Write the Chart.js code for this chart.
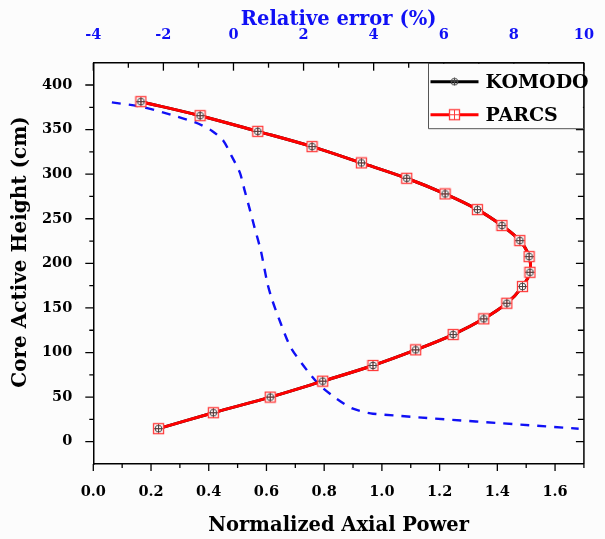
<!DOCTYPE html>
<html>
<head>
<meta charset="utf-8">
<script src="https://cdn.jsdelivr.net/npm/chart.js@4.4.1/dist/chart.umd.min.js"></script>
<style>
  html,body{margin:0;padding:0;background:#fcfcfc;}
  #wrap{width:605px;height:539px;}
</style>
</head>
<body>
<div id="wrap"><canvas id="c" width="605" height="539"></canvas></div>
<script>
// ---- data ----
const nodeHeights = [381.3, 365.6, 348.0, 330.9, 312.6, 295.4, 277.9, 260.3, 242.4, 225.5, 207.6, 190.0, 174.0, 155.3, 137.8, 120.2, 103.0, 85.5, 67.9, 50.0, 32.5, 14.6];
const komodoPower = [0.165, 0.370, 0.570, 0.758, 0.929, 1.086, 1.219, 1.331, 1.416, 1.478, 1.510, 1.513, 1.487, 1.433, 1.353, 1.247, 1.117, 0.969, 0.795, 0.613, 0.416, 0.226];
const parcsPower  = [0.165, 0.370, 0.570, 0.758, 0.929, 1.086, 1.219, 1.331, 1.416, 1.478, 1.510, 1.513, 1.487, 1.433, 1.353, 1.247, 1.117, 0.969, 0.795, 0.613, 0.416, 0.226];
const errHeights = [380.5, 375.7, 366.7, 358.0, 348.8, 337.6, 320.8, 302.0, 281.5, 261.3, 240.4, 214.3, 177.4, 158.3, 132.5, 106.0, 80.0, 63.0, 48.0, 37.0, 31.4, 14.6];
const relError   = [-3.47, -2.64, -1.79, -1.09, -0.62, -0.29, -0.06, 0.18, 0.32, 0.46, 0.60, 0.78, 0.97, 1.11, 1.35, 1.63, 2.10, 2.47, 2.95, 3.41, 3.98, 9.85];
const powerTicks = [0.0, 0.2, 0.4, 0.6, 0.8, 1.0, 1.2, 1.4, 1.6];
const errorTicks = [-4, -2, 0, 2, 4, 6, 8, 10];
const heightTicks = [0, 50, 100, 150, 200, 250, 300, 350, 400];
const seriesNames = ['KOMODO', 'PARCS'];
const yTitle = 'Core Active Height (cm)';

// ---- marker images ----
function squareMarker(){
  const c = document.createElement('canvas'); c.width = 13; c.height = 13;
  const g = c.getContext('2d');
  g.fillStyle = '#ffffff'; g.fillRect(1,1,11,11);
  g.strokeStyle = '#ff3b3b'; g.lineWidth = 1.3;
  g.strokeRect(1.5,1.5,10,10);
  g.lineWidth = 1;
  g.beginPath(); g.moveTo(6.5,1.5); g.lineTo(6.5,11.5); g.moveTo(1.5,6.5); g.lineTo(11.5,6.5); g.stroke();
  return c;
}
function circleMarker(){
  const c = document.createElement('canvas'); c.width = 9; c.height = 9;
  const g = c.getContext('2d');
  g.strokeStyle = '#444'; g.lineWidth = 1;
  g.beginPath(); g.arc(4.5,4.5,3.4,0,Math.PI*2); g.stroke();
  g.beginPath(); g.moveTo(4.5,0.8); g.lineTo(4.5,8.2); g.moveTo(0.8,4.5); g.lineTo(8.2,4.5); g.stroke();
  return c;
}
const sqImg = squareMarker();
const ciImg = circleMarker();

const pts = (xs, ys) => xs.map((x,i)=>({x:x, y:ys[i]}));

const FONT = "'DejaVu Serif', serif";
Chart.defaults.font.family = FONT;
Chart.defaults.font.weight = 'bold';
const BLUE = '#1010f5';

const decor = {
  id: 'decor',
  afterDraw(chart){
    const {ctx, chartArea:a, scales} = chart;
    ctx.save();
    ctx.strokeStyle = '#000'; ctx.lineWidth = 1.5;
    // right border
    ctx.beginPath(); ctx.moveTo(a.right, a.top); ctx.lineTo(a.right, a.bottom); ctx.stroke();
    ctx.lineWidth = 1.3;
    // y ticks (left outward, right inward)
    for (let k = 0; k <= 16; k++){
      const v = k*25;
      const py = scales.y.getPixelForValue(v);
      const major = (k % 2 === 0);
      ctx.beginPath();
      ctx.moveTo(a.left, py); ctx.lineTo(a.left - (major?8:4), py);
      ctx.moveTo(a.right, py); ctx.lineTo(a.right - (major?8:6), py);
      ctx.stroke();
    }
    // bottom ticks outward
    for (let k = 0; k <= 17; k++){
      const px = scales.x.getPixelForValue(k/10);
      const major = (k % 2 === 0);
      ctx.beginPath(); ctx.moveTo(px, a.bottom); ctx.lineTo(px, a.bottom + (major?7:4)); ctx.stroke();
    }
    // top ticks inward
    for (let k = -4; k <= 10; k++){
      const px = scales.x2.getPixelForValue(k);
      const major = (k % 2 === 0);
      ctx.beginPath(); ctx.moveTo(px, a.top); ctx.lineTo(px, a.top + (major?8:5)); ctx.stroke();
    }
    // y axis title
    ctx.save();
    ctx.translate(21, 252); ctx.rotate(-Math.PI/2);
    ctx.font = "bold 20px " + FONT; ctx.fillStyle = '#000';
    ctx.textAlign = 'center'; ctx.textBaseline = 'middle';
    ctx.fillText(yTitle, 0, 0);
    ctx.restore();
    // legend box
    const lx = 428.5, ly = a.top, lw = a.right - 428.5, lh = 66;
    ctx.fillStyle = '#fcfcfc';
    ctx.fillRect(lx, ly+1, lw-1, lh-1);
    ctx.strokeStyle = '#555'; ctx.lineWidth = 1;
    ctx.beginPath(); ctx.moveTo(lx, ly); ctx.lineTo(lx, ly+lh); ctx.lineTo(a.right, ly+lh); ctx.stroke();
    ctx.strokeStyle = '#000'; ctx.lineWidth = 1.5;
    ctx.beginPath(); ctx.moveTo(lx, ly); ctx.lineTo(a.right, ly); ctx.stroke();
    const rows = [
      {name: seriesNames[0], color:'#000', img: ciImg, y: ly + 19},
      {name: seriesNames[1], color:'#ff0000', img: sqImg, y: ly + 52}
    ];
    ctx.font = "bold 19px " + FONT;
    ctx.textBaseline = 'middle'; ctx.textAlign = 'left';
    rows.forEach(r=>{
      ctx.strokeStyle = r.color; ctx.lineWidth = 3;
      ctx.beginPath(); ctx.moveTo(lx+2, r.y); ctx.lineTo(lx+50, r.y); ctx.stroke();
      ctx.drawImage(r.img, lx+26-r.img.width/2, r.y-r.img.height/2);
      ctx.fillStyle = '#000';
      ctx.fillText(r.name, lx+57, r.y+1);
    });
    ctx.restore();
  }
};

new Chart(document.getElementById('c'), {
  type: 'line',
  data: {
    datasets: [
      { label: seriesNames[0]+' markers', data: pts(komodoPower, nodeHeights), showLine:false,
        pointStyle: ciImg, xAxisID:'x', yAxisID:'y', order: 0 },
      { label: seriesNames[1], data: pts(parcsPower, nodeHeights), borderColor:'#ff0000', borderWidth:3,
        tension:0.35, pointStyle: sqImg, xAxisID:'x', yAxisID:'y', order: 1 },
      { label: seriesNames[0], data: pts(komodoPower, nodeHeights), borderColor:'#000', borderWidth:3,
        tension:0.35, pointRadius:0, xAxisID:'x', yAxisID:'y', order: 2 },
      { label: 'Relative error', data: pts(relError, errHeights), borderColor: BLUE, borderWidth:2.4,
        borderDash:[9,8], tension:0.25, pointRadius:0, xAxisID:'x2', yAxisID:'y', order: 3 }
    ]
  },
  options: {
    responsive:false, animation:false, parsing:true,
    layout: { padding: { left:0, right:14.3, top:0, bottom:0 } },
    plugins: { legend:{display:false}, tooltip:{enabled:false} },
    scales: {
      x: { type:'linear', position:'bottom', min:0, max:1.7,
        afterBuildTicks: s => { s.ticks = powerTicks.map(v=>({value:v})); },
        afterFit: s => { s.height = 75; },
        grid:{display:false}, border:{display:true, color:'#000', width:1.5},
        ticks:{ padding:12, color:'#000', font:{size:14.5, weight:'bold'}, maxRotation:0, autoSkip:false,
          callback: v => Number(v).toFixed(1) },
        title:{ display:true, text:'Normalized Axial Power', color:'#000', font:{size:19.5, weight:'bold'}, padding:{top:0, bottom:1} } },
      x2: { type:'linear', position:'top', min:-4, max:10,
        afterBuildTicks: s => { s.ticks = errorTicks.map(v=>({value:v})); },
        afterFit: s => { s.height = 62.7; },
        grid:{display:false}, border:{display:true, color:'#000', width:1.5},
        ticks:{ padding:11, color:BLUE, font:{size:14.5, weight:'bold'}, maxRotation:0, autoSkip:false,
          callback: v => String(v) },
        title:{ display:true, text:'Relative error (%)', color:BLUE, font:{size:19.5, weight:'bold'}, padding:{top:8.5, bottom:0} } },
      y: { type:'linear', position:'left', min:-25, max:425,
        afterBuildTicks: s => { s.ticks = heightTicks.map(v=>({value:v})); },
        afterFit: s => { s.width = 93.3; },
        grid:{display:false}, border:{display:true, color:'#000', width:1.5},
        ticks:{ padding:13, color:'#000', font:{size:14.5, weight:'bold'}, autoSkip:false,
          callback: v => String(v) },
        title:{ display:false } }
    }
  },
  plugins: [decor]
});
</script>
</body>
</html>
